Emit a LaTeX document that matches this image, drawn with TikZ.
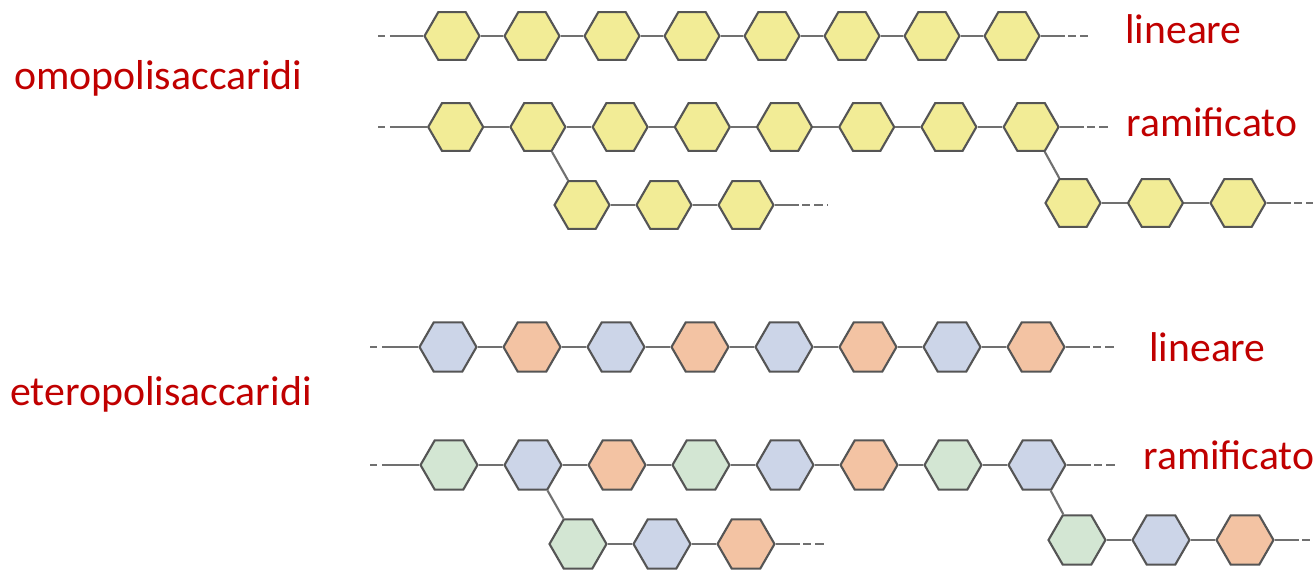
\documentclass[tikz,border=0pt]{standalone}
\usepackage{fontspec}
\setmainfont{Carlito}
\usetikzlibrary{shapes.geometric}

\definecolor{giallo}{HTML}{F2EC96}
\definecolor{azzurro}{HTML}{CCD5E8}
\definecolor{arancio}{HTML}{F3C3A3}
\definecolor{verde}{HTML}{D3E6D3}
\definecolor{rosso}{HTML}{C00000}
\definecolor{bordo}{HTML}{555555}
\definecolor{grigio}{HTML}{707070}

\tikzset{
  zucchero/.style={regular polygon, regular polygon sides=6, minimum size=1.1cm,
    inner sep=0pt, draw=bordo, line width=1.2pt, fill=#1},
  zuccherone/.style={zucchero=#1, minimum size=1.14cm},
  legame/.style={draw=grigio, line width=1.2pt},
  coda/.style={legame, dash pattern=on 14pt off 1.7pt on 4.5pt off 2.3pt on 5pt off 2.3pt},
  testa/.style={legame, dash pattern=on 4pt off 2.8pt on 40pt},
  tipo/.style={text=rosso, font=\fontsize{23.8}{28}\selectfont, inner sep=0pt, anchor=base west},
  forma/.style={text=rosso, font=\fontsize{23.7}{28}\selectfont, inner sep=0pt, anchor=base west}
}

\begin{document}
\begin{tikzpicture}[x=0.02cm, y=-0.02cm]
\useasboundingbox (0,0) rectangle (1313,570);

% omopolisaccaridi
\node[tipo] (omo) at (14,90) {omopolisaccaridi};

% lineare
\foreach \i in {1,...,8}
  \node[zucchero=giallo] (a\i) at ({372+80*\i},36) {};
\foreach \i [count=\j from 2] in {1,...,7}
  \draw[legame] (a\i) -- (a\j);
\coordinate (a0) at (378,36);
\coordinate (a9) at (1088,36);
\draw[testa] (a0) -- (a1);
\draw[coda] (a8) -- (a9);
\node[forma] (lin1) at (1125,44) {lineare};

% ramificato
\foreach \i in {1,...,8}
  \node[zucchero=giallo] (r\i) at ({373.5+82.2*\i},127) {};
\foreach \i [count=\j from 2] in {1,...,7}
  \draw[legame] (r\i) -- (r\j);
\foreach \i in {1,2,3} {
  \node[zucchero=giallo] (s\i) at ({500+82*\i},205) {};
  \node[zucchero=giallo] (t\i) at ({990.5+82.5*\i},203) {};
}
\foreach \i [count=\j from 2] in {1,2} {
  \draw[legame] (s\i) -- (s\j);
  \draw[legame] (t\i) -- (t\j);
}
\draw[legame] (r2) -- (s1);
\draw[legame] (r8) -- (t1);
\coordinate (r0) at (378,127);
\coordinate (r9) at (1112,127);
\coordinate (s4) at (828,205);
\coordinate (t4) at (1320,203);
\draw[testa] (r0) -- (r1);
\draw[coda] (r8) -- (r9);
\draw[coda] (s3) -- (s4);
\draw[coda] (t3) -- (t4);
\node[forma] (ram1) at (1126,137) {ramificato};

% eteropolisaccaridi
\node[tipo] (etero) at (10,406) {eteropolisaccaridi};

% lineare
\foreach \c [count=\i] in {azzurro,arancio,azzurro,arancio,azzurro,arancio,azzurro,arancio}
  \node[zuccherone=\c] (e\i) at ({364+84*\i},347) {};
\foreach \i [count=\j from 2] in {1,...,7}
  \draw[legame] (e\i) -- (e\j);
\coordinate (e0) at (370,347);
\coordinate (e9) at (1115,347);
\draw[testa] (e0) -- (e1);
\draw[coda] (e8) -- (e9);
\node[forma] (lin2) at (1149,362) {lineare};

% ramificato
\foreach \c [count=\i] in {verde,azzurro,arancio,verde,azzurro,arancio,verde,azzurro}
  \node[zuccherone=\c] (f\i) at ({365+84*\i},465) {};
\foreach \i [count=\j from 2] in {1,...,7}
  \draw[legame] (f\i) -- (f\j);
\foreach \c [count=\i] in {verde,azzurro,arancio} {
  \node[zuccherone=\c] (g\i) at ({494+84*\i},544) {};
  \node[zuccherone=\c] (h\i) at ({993+84*\i},540) {};
}
\foreach \i [count=\j from 2] in {1,2} {
  \draw[legame] (g\i) -- (g\j);
  \draw[legame] (h\i) -- (h\j);
}
\draw[legame] (f2) -- (g1);
\draw[legame] (f8) -- (h1);
\coordinate (f0) at (370,465);
\coordinate (f9) at (1115,465);
\coordinate (g4) at (828,544);
\coordinate (h4) at (1320,540);
\draw[testa] (f0) -- (f1);
\draw[coda] (f8) -- (f9);
\draw[coda] (g3) -- (g4);
\draw[coda] (h3) -- (h4);
\node[forma] (ram2) at (1143,470) {ramificato};
\end{tikzpicture}
\end{document}
